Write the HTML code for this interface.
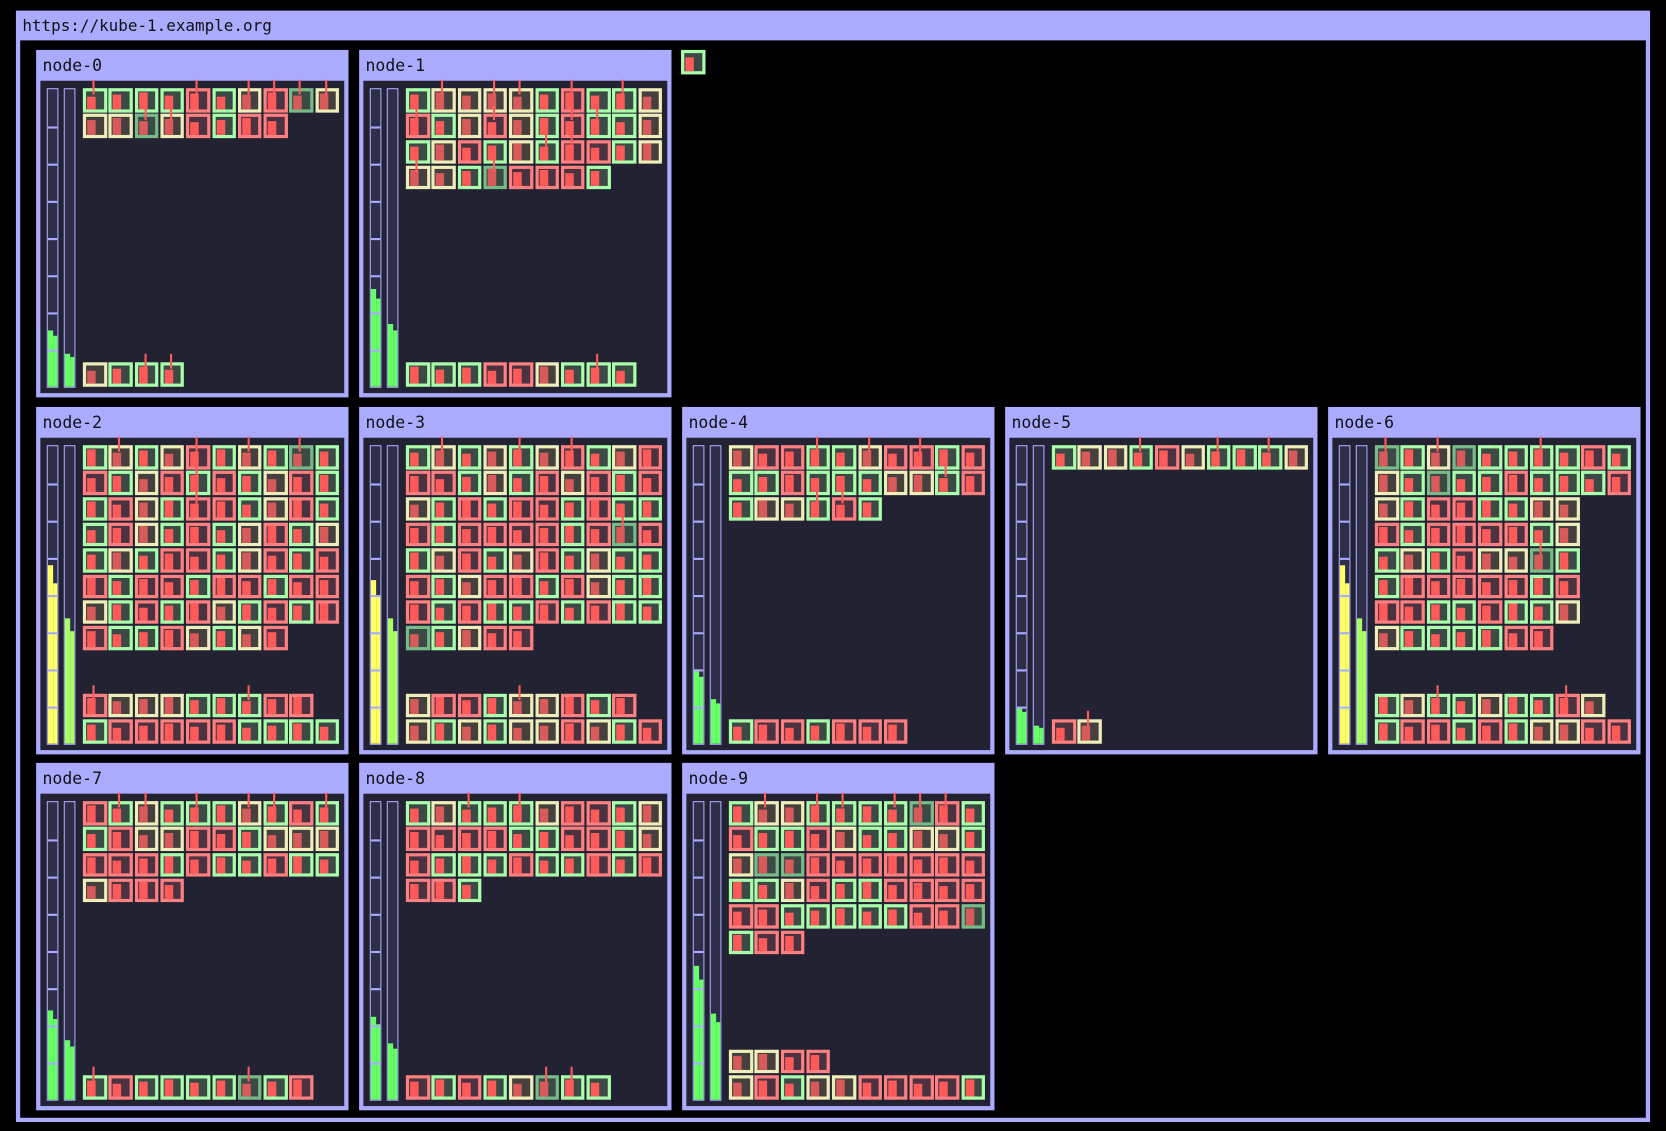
<!DOCTYPE html>
<html><head><meta charset="utf-8"><style>
html,body{margin:0;padding:0;background:#000;width:1666px;height:1130px;overflow:hidden}
#stage{position:absolute;left:0;top:0;width:1568px;height:1064px;transform:scale(1.0625);transform-origin:0 0;font-family:"DejaVu Sans Mono","Liberation Mono",monospace}
.cluster{position:absolute;left:15px;top:10px;width:1538px;height:1046px;background:#aaaaff}
.ctitle{position:absolute;left:6px;top:5px;font-size:15px;color:#111}
.cbody{position:absolute;left:4px;top:28px;right:4px;bottom:4px;background:#000}
.node{position:absolute;width:294px;height:327px;background:#aaaaff}
.ntitle{position:absolute;left:6px;top:6px;font-size:15.5px;color:#111}
.nbody{position:absolute;left:4px;top:29px;right:4px;bottom:4px;background:#222233}
.gauge{position:absolute;width:9px;border:1.5px solid #aaaaff;background:#2e2e48;overflow:hidden}
.pod{position:absolute;width:22.5px;height:22.5px;box-sizing:border-box;border:3px solid}
.spike{position:absolute;width:2px;background:#ff5a5a}
</style></head><body>
<div id="stage">
<div class="cluster">
<div class="ctitle">https://kube-1.example.org</div>
<div class="cbody" id="cbody"></div>
</div>
</div>
<script>
// node names
const nodeNames=["node-0","node-1","node-2","node-3","node-4","node-5","node-6","node-7","node-8","node-9"];
// cpu / memory gauge fractions
const cpuUse=[0.19,0.33,0.60,0.55,0.25,0.12,0.60,0.30,0.28,0.45];
const memUse=[0.11,0.21,0.42,0.42,0.15,0.06,0.42,0.20,0.19,0.29];
// pod status rows (g=green,y=yellow,r=red,d=dim green; uppercase = spike)
const topPods=[
["GgggRgYRDY","yyDYrgrr"],
["gYyYYgRgGy","RgyRygRGgy","gyrgyGRrgy","YygDrrrg"],
["gYgyRgYgDg","rgyrGrgyrg","grygRrgyrg","grygrgyrgy","gygrrgyrgr","rgrrgrrgrr","ygrgrygrgr","rggrygyr"],
["gYgyGyRgyr","rrgygryrgr","ygrgrrgrgg","rgrrrrgrDr","gyrgyrgygg","rgyrrgrygg","rgrggrgrgg","dgyrr"],
["yrrGgYrRgr","ggrgggyyGr","gyyGRg"],
["gyyGryGgGy"],
["DgYdggGgrg","ygdggrgggr","ygrrggyy","rgrrrrgy","gygryyDg","grrrrrgr","rrggrggy","yggggrr"],
["rGYgGgYGrG","gryyrrgyyy","rrrgrggrgg","yrrr"],
["gyGgGyrrgy","rrrrggrrgy","rgggrggrgr","rrg"],
["gYyGGgGDRg","rggryggyyg","yddrrrrrrr","ggyrggrrrr","rrgggggrrd","grr"]];
const bottomPods=[
["ygGG"],
["gggrrygGg"],
["RyyyggGrr","grrrrrgggg"],
["yrrgYyrgr","ygygyyrygr"],
["grrgrrr"],
["rY"],
["gyGgyggRy","grrgrgyyrr"],
["GrggggDgr"],
["rgrgyDGg"],
["yyrr","yrgyyrrrrg"]];
const pos=[[15,9],[319,9],[15,345],[319,345],[623,345],[927,345],[1231,345],[15,680],[319,680],[623,680]];
const border={g:"#aaffaa",y:"#eeeebb",r:"#ff8080",d:"#77bb88"};
const inner={g:"#3b4a44",y:"#45403e",r:"#4a3240",d:"#3b4a44"};
const cb=document.getElementById('cbody');
function mkPod(parent,x,y,c,idx){
  const k=c.toLowerCase();
  const p=document.createElement('div');
  p.className='pod';
  
  
  p.style.left=x+'px';p.style.top=y+'px';
  p.style.borderColor=border[k];p.style.background=inner[k];
  const h=12+((idx*7)%5);
  const bar=document.createElement('div');
  
  
  bar.style.cssText='position:absolute;left:1px;bottom:0;width:8px;height:'+h+'px;background:'+(k==='y'||k==='d'?'#d85a5a':'#ff5a5a');
  p.appendChild(bar);
  parent.appendChild(p);
  if(c!==k){
    const s=document.createElement('div');
    s.className='spike';
    
    
    s.style.left=(x+9)+'px';s.style.top=(y-8)+'px';s.style.height='14px';
    parent.appendChild(s);
  }
}
nodeNames.forEach((nm,i)=>{
  const n=document.createElement('div');
  n.className='node';
  
  
  n.style.left=pos[i][0]+'px';n.style.top=pos[i][1]+'px';
  const t=document.createElement('div');t.className='ntitle';t.textContent=nm;
  
  
  n.appendChild(t);
  const b=document.createElement('div');b.className='nbody';
  
  
  n.appendChild(b);
  const GH=280;
  [[6,cpuUse[i]],[22,memUse[i]]].forEach(([gx,v],gi)=>{
    const g=document.createElement('div');g.className='gauge';
    
    
    g.style.left=gx+'px';g.style.top='7px';g.style.height=GH+'px';
    const col=(gi===0&&v>0.5)?'#ffff66':(gi===1&&v>0.35?'#aaff66':'#66ff66');
    const f1=document.createElement('div');
    
    
    f1.style.cssText='position:absolute;left:0;bottom:0;width:55%;height:'+(v*GH)+'px;background:'+col;
    const f2=document.createElement('div');
    
    
    f2.style.cssText='position:absolute;right:0;bottom:0;width:45%;height:'+(v*GH*0.9)+'px;background:'+col;
    g.appendChild(f1);g.appendChild(f2);
    if(gi===0){for(let k=1;k<8;k++){const l=document.createElement('div');
      
      
      l.style.cssText='position:absolute;left:0;right:0;height:1.5px;background:#aaaaff;top:'+(k*GH/8)+'px';g.appendChild(l);}}
    b.appendChild(g);
  });
  topPods[i].forEach((row,r)=>{[...row].forEach((c,j)=>mkPod(b,40+j*24.3,7+r*24.3,c,i*31+r*11+j));});
  const bp=bottomPods[i];
  bp.forEach((row,r)=>{const yy=265-(bp.length-1-r)*24.3;[...row].forEach((c,j)=>mkPod(b,40+j*24.3,yy,c,i*17+r*5+j));});
  cb.appendChild(n);
});
mkPod(cb,622,9,'g',3);
</script>
</body></html>
